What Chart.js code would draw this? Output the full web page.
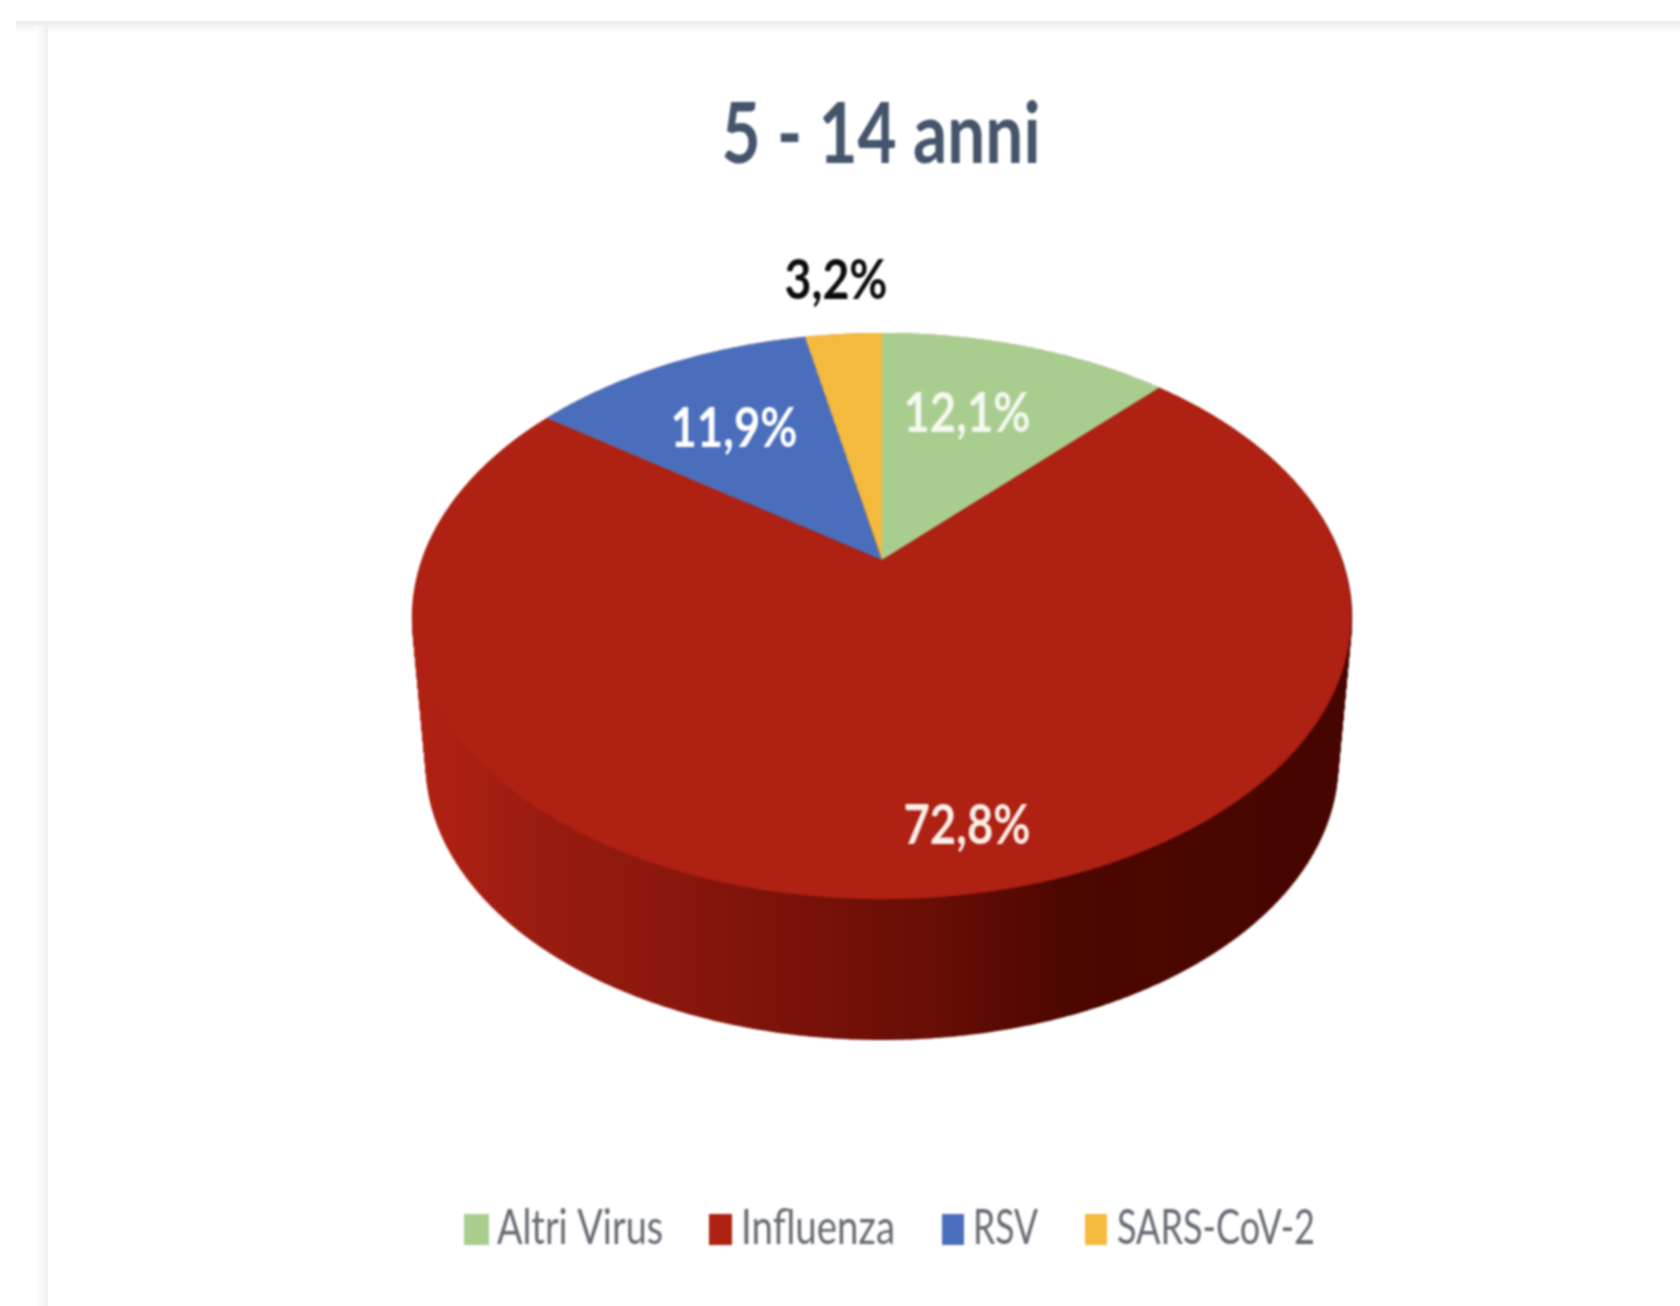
<!DOCTYPE html>
<html>
<head>
<meta charset="utf-8">
<title>5 - 14 anni</title>
<script src="https://cdn.jsdelivr.net/npm/chart.js@4/dist/chart.umd.min.js"></script>
<style>
  html,body{margin:0;padding:0;background:#fff;overflow:hidden}
  #page{position:relative;width:1680px;height:1306px;background:#fff}
  /* faint edge of the screenshot the chart was cut from */
  #edgeTop{position:absolute;left:16px;right:0;top:21px;height:12px;background:linear-gradient(#ebebef,#fff)}
  #edgeLeft{position:absolute;left:34px;width:14px;top:26px;bottom:0;background:linear-gradient(90deg,#fff,#f1f1f1)}
  #chart{position:absolute;left:0;top:0;filter:blur(1.1px)}
</style>
</head>
<body>
<div id="page">
  <div id="edgeTop"></div>
  <div id="edgeLeft"></div>
  <canvas id="chart" width="1680" height="1306"></canvas>
</div>
<script>
const chartTitle = '5 - 14 anni';
const categories = ['Altri Virus', 'Influenza', 'RSV', 'SARS-CoV-2'];
const values = [12.1, 72.8, 11.9, 3.2];
const valueLabels = ['12,1%', '72,8%', '11,9%', '3,2%'];
const colors = ['#A9CD8F', '#AE2113', '#4A6EBC', '#F3BA3E'];

// label placement: centre x, centre y, width, colour
const labelPos = [[967, 414, 127, '#F4F8EF'], [967, 826, 127, '#FBEFE9'], [734, 429, 127, '#FFFFFF'], [836, 281, 103, '#0B0B0B']];
// legend placement: swatch x, swatch w, text x, text w
const legendPos = [[464, 25, 497, 166], [709, 23, 741, 154], [942, 22, 973, 65], [1085, 22, 1117, 198]];

// tilted disc, perspective from the reference picture
const K = -0.198, SQUASH = 272 / 460, LOWER_SCALE = 0.97, LOWER_DY = 151;

function project(arc, a){
  const u = Math.cos(a), v = Math.sin(a), d = 1 + K * v, r = arc.outerRadius;
  return [r * u / d, r * SQUASH * v / d];
}

function squeezedText(ctx, txt, x, y, w, font, color, align){
  ctx.save();
  ctx.font = font;
  ctx.fillStyle = color;
  ctx.textBaseline = 'middle';
  ctx.textAlign = align || 'center';
  const m = ctx.measureText(txt).width;
  ctx.translate(x, y);
  ctx.scale(w / m, 1);
  ctx.fillText(txt, 0, 0);
  ctx.restore();
}

const piePlugin = {
  id: 'tiltedPie',
  beforeDatasetsDraw(chart){
    const ctx = chart.ctx, arcs = chart.getDatasetMeta(0).data, c = arcs[0];
    // side wall
    const grad = ctx.createLinearGradient(425, 0, 1340, 0);
    grad.addColorStop(0, '#AE2113');
    grad.addColorStop(0.03, '#AC2013');
    grad.addColorStop(0.12, '#9A1C10');
    grad.addColorStop(0.25, '#8C180D');
    grad.addColorStop(0.4, '#7A120A');
    grad.addColorStop(0.55, '#680E05');
    grad.addColorStop(0.7, '#4D0701');
    grad.addColorStop(1, '#470500');
    ctx.save();
    ctx.strokeStyle = grad;
    ctx.fillStyle = grad;
    ctx.lineWidth = 2;
    ctx.beginPath();
    for(let i = 0; i <= 720; i++){
      const p = project(c, i / 720 * Math.PI * 2);
      ctx.lineTo(c.x + p[0] * LOWER_SCALE, c.y + p[1] * LOWER_SCALE + LOWER_DY);
    }
    ctx.closePath();
    ctx.fill();
    for(let i = 0; i < 720; i++){
      const p = project(c, i / 720 * Math.PI * 2);
      ctx.beginPath();
      ctx.moveTo(c.x + p[0], c.y + p[1]);
      ctx.lineTo(c.x + p[0] * LOWER_SCALE, c.y + p[1] * LOWER_SCALE + LOWER_DY);
      ctx.stroke();
    }
    // top face, angles come from the arc elements
    arcs.forEach((arc, i) => {
      ctx.beginPath();
      ctx.moveTo(arc.x, arc.y);
      const steps = Math.max(8, Math.ceil((arc.endAngle - arc.startAngle) * 120));
      for(let s = 0; s <= steps; s++){
        const p = project(arc, arc.startAngle + (arc.endAngle - arc.startAngle) * s / steps);
        ctx.lineTo(arc.x + p[0], arc.y + p[1]);
      }
      ctx.closePath();
      ctx.fillStyle = colors[i];
      ctx.fill();
    });
    ctx.restore();
    return false;
  },
  afterDraw(chart){
    const ctx = chart.ctx;
    squeezedText(ctx, chartTitle, 881, 136, 319, 'bold 84px Lato', '#44546A');
    valueLabels.forEach((t, i) => {
      const p = labelPos[i];
      squeezedText(ctx, t, p[0], p[1], p[2], 'bold 56px Lato', p[3]);
    });
    categories.forEach((t, i) => {
      const p = legendPos[i];
      ctx.fillStyle = colors[i];
      ctx.fillRect(p[0], 1214, p[1], 31);
      squeezedText(ctx, t, p[2], 1229, p[3], '48px Lato', '#666A73', 'left');
    });
  }
};

new Chart(document.getElementById('chart'), {
  type: 'pie',
  data: { labels: categories, datasets: [{ data: values, backgroundColor: colors, borderWidth: 0 }] },
  options: {
    responsive: false,
    animation: false,
    layout: { padding: { left: 422, right: 338, top: 100, bottom: 286 } },
    plugins: { legend: { display: false }, title: { display: false }, tooltip: { enabled: false } }
  },
  plugins: [piePlugin]
});
</script>
</body>
</html>
